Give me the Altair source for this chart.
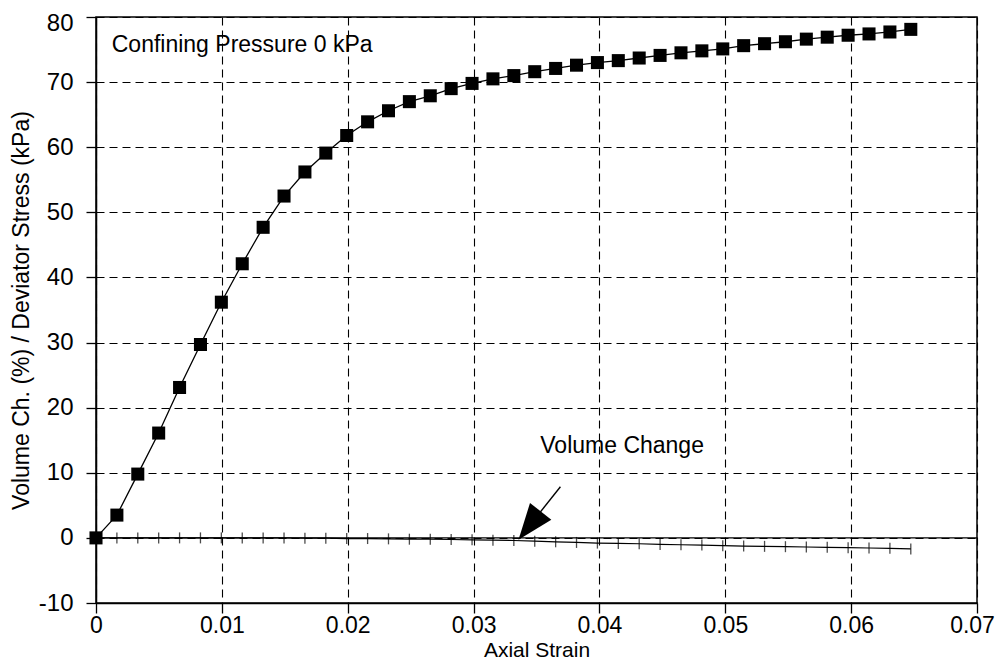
import altair as alt
import pandas as pd

# ---- data ----
strain = [round(i * 0.00166, 5) for i in range(40)]
deviator_stress = [0, 3.5, 9.8, 16.1, 23.1, 29.7, 36.2, 42.1, 47.7, 52.5,
                   56.2, 59.1, 61.8, 63.9, 65.6, 67.0, 67.9, 69.0, 69.8, 70.5,
                   71.0, 71.6, 72.1, 72.6, 73.0, 73.3, 73.7, 74.1, 74.5, 74.8,
                   75.1, 75.6, 75.9, 76.2, 76.6, 76.9, 77.2, 77.4, 77.7, 78.1]
volume_change = [0, 0, 0, 0, 0, 0, 0, 0, 0, 0,
                 -0.05, -0.05, -0.1, -0.1, -0.15, -0.2, -0.2, -0.25, -0.3, -0.35,
                 -0.4, -0.5, -0.6, -0.7, -0.8, -0.85, -0.9, -1.0, -1.05, -1.1,
                 -1.2, -1.25, -1.3, -1.35, -1.4, -1.45, -1.5, -1.55, -1.6, -1.7]

x_ticks = [0, 0.01, 0.02, 0.03, 0.04, 0.05, 0.06, 0.07]
y_ticks = [-10, 0, 10, 20, 30, 40, 50, 60, 70, 80]

label_text = ["Confining Pressure 0 kPa", "Volume Change"]
label_x = [0.00125, 0.0353]
label_y = [74.6, 13.1]

arrow_x = [0.0369]
arrow_y = [7.85]
arrow_x2 = [0.03445]
arrow_y2 = [1.9]

FONT = "Liberation Sans"

df = pd.DataFrame({"strain": strain, "stress": deviator_stress, "vol": volume_change})
labels_df = pd.DataFrame({"text": label_text, "x": label_x, "y": label_y})
arrow_df = pd.DataFrame({"x": arrow_x, "y": arrow_y, "x2": arrow_x2, "y2": arrow_y2})
zero_df = pd.DataFrame({"y": [0]})

xscale = alt.Scale(domain=[0, 0.07], nice=False, zero=False)
yscale = alt.Scale(domain=[-10, 80], nice=False, zero=False)

xaxis = alt.Axis(
    values=x_ticks,
    labelExpr="datum.value == 0 ? '0' : format(datum.value, '.2f')",
    title="Axial Strain",
    grid=True, gridDash=[8, 5], gridColor="black", gridWidth=1.1, gridOpacity=1,
    domainColor="black", domainWidth=1.5,
    tickColor="black", tickSize=10, tickWidth=1.3,
    labelFont=FONT, labelFontSize=23, labelColor="black", labelPadding=1,
    labelOffset=alt.condition("datum.value > 0.065", alt.value(-5), alt.value(0)),
    labelFlush=False, labelOverlap=False,
    titleFont=FONT, titleFontSize=21, titleFontWeight="normal", titleColor="black",
    titleBaseline="alphabetic", titleY=53,
)
yaxis = alt.Axis(
    values=y_ticks,
    labelExpr="'' + datum.value",
    title="Volume Ch. (%) / Deviator Stress (kPa)",
    grid=True, gridDash=[8, 5], gridColor="black", gridWidth=1.1, gridOpacity=1,
    domainColor="black", domainWidth=1.5,
    tickColor="black", tickSize=10, tickWidth=1.3,
    labelFont=FONT, labelFontSize=24, labelColor="black", labelPadding=13,
    labelOffset=alt.condition("datum.value > 75", alt.value(6), alt.value(0)),
    labelFlush=False, labelOverlap=False,
    titleFont=FONT, titleFontSize=23, titleFontWeight="normal", titleColor="black",
    titleBaseline="alphabetic", titleX=-68,
)

base = alt.Chart(df)

stress_line = base.mark_line(color="black", strokeWidth=1.3).encode(
    x=alt.X("strain:Q", scale=xscale, axis=xaxis),
    y=alt.Y("stress:Q", scale=yscale, axis=yaxis),
)
stress_pts = base.mark_square(color="black", size=170, opacity=1).encode(
    x=alt.X("strain:Q", scale=xscale),
    y=alt.Y("stress:Q", scale=yscale),
)
zero_rule = alt.Chart(zero_df).mark_rule(color="black", strokeWidth=1.3).encode(
    y=alt.Y("y:Q", scale=yscale)
)
vol_line = base.mark_line(color="black", strokeWidth=1.2).encode(
    x=alt.X("strain:Q", scale=xscale),
    y=alt.Y("vol:Q", scale=yscale),
)
vol_ticks = base.mark_tick(color="black", orient="vertical", size=11, thickness=1.3).encode(
    x=alt.X("strain:Q", scale=xscale),
    y=alt.Y("vol:Q", scale=yscale),
)
texts = alt.Chart(labels_df).mark_text(
    font=FONT, fontSize=23, color="black", align="left", baseline="alphabetic"
).encode(
    x=alt.X("x:Q", scale=xscale),
    y=alt.Y("y:Q", scale=yscale),
    text="text:N",
)
arrow_shaft = alt.Chart(arrow_df).mark_rule(color="black", strokeWidth=1.4).encode(
    x=alt.X("x:Q", scale=xscale),
    y=alt.Y("y:Q", scale=yscale),
    x2="x2:Q",
    y2="y2:Q",
)
arrow_head = alt.Chart(arrow_df).mark_point(
    shape="M0,1 L-0.75,-1 L0.75,-1 Z", filled=True, color="black", opacity=1,
    size=1300, angle=38,
).encode(
    x=alt.X("x2:Q", scale=xscale),
    y=alt.Y("y2:Q", scale=yscale),
)

chart = alt.layer(
    zero_rule, vol_line, vol_ticks, stress_line, stress_pts, texts, arrow_shaft, arrow_head
).properties(
    width=881, height=586,
    padding={"left": 88, "top": 9, "right": 18, "bottom": 58},
    autosize=alt.AutoSizeParams(type="none"),
    background="white",
).configure_view(
    stroke="black", strokeWidth=1.5
)

chart.save("out.html", embed_options={"renderer": "svg", "actions": False})
